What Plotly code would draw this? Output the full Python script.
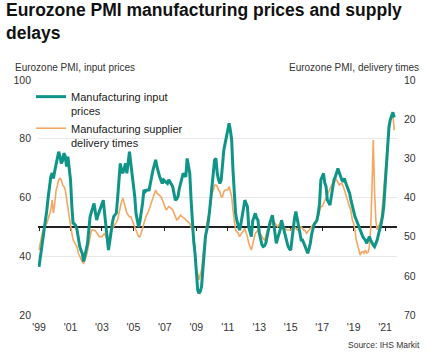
import pandas as pd
import plotly.graph_objects as go

# ---- data (monthly, Jan 1999 - Aug 2021) ----
start_month = "1999-01-01"

input_prices = [
    36.4, 39.5, 43.0, 46.0, 49.0, 52.0, 55.7, 60.0, 64.0, 67.0, 68.3, 66.5,   # 1999
    69.0, 71.6, 73.0, 75.6, 74.0, 71.6, 72.5, 75.1, 74.0, 70.5, 73.9, 70.0,   # 2000
    66.0, 57.0, 51.3, 51.0, 50.5, 49.0, 45.5, 43.5, 42.0, 41.0, 38.2, 40.0,   # 2001
    42.0, 44.4, 49.0, 53.5, 55.0, 56.5, 58.0, 55.0, 52.3, 54.0, 55.5, 56.9,   # 2002
    58.0, 59.1, 55.0, 51.3, 46.0, 42.1, 45.0, 49.0, 51.5, 53.5, 54.0, 54.7,   # 2003
    60.0, 67.0, 71.6, 69.0, 68.3, 70.0, 71.6, 68.2, 72.0, 75.6, 71.6, 68.2,   # 2004
    65.0, 60.3, 54.6, 52.0, 50.0, 52.0, 54.6, 58.0, 62.6, 62.0, 62.5, 62.6,   # 2005
    62.6, 65.0, 67.5, 69.4, 71.0, 72.8, 70.5, 68.5, 67.1, 66.0, 64.8, 66.0,   # 2006
    65.5, 65.0, 64.8, 66.0, 65.0, 64.5, 63.7, 61.0, 59.1, 59.5, 60.3, 63.0,   # 2007
    64.5, 66.0, 68.2, 67.5, 67.1, 73.3, 71.0, 68.2, 59.1, 50.0, 45.0, 41.0,   # 2008
    33.0, 28.5, 27.4, 28.0, 29.6, 35.3, 41.0, 46.7, 49.0, 51.2, 55.0, 59.1,   # 2009
    63.0, 68.0, 72.8, 73.3, 68.2, 66.0, 64.8, 66.0, 71.6, 76.2, 78.5, 80.7,   # 2010
    83.0, 85.3, 83.0, 79.6, 69.4, 60.3, 54.6, 52.0, 50.0, 48.9, 51.0, 53.5,   # 2011
    56.0, 59.1, 58.0, 56.9, 50.0, 48.0, 46.7, 52.0, 53.5, 54.6, 53.0, 52.3,   # 2012
    48.0, 45.5, 44.0, 43.3, 43.5, 44.4, 47.0, 49.5, 51.2, 52.5, 54.0, 51.2,   # 2013
    47.0, 44.4, 46.0, 47.5, 49.0, 52.3, 50.5, 49.0, 47.5, 45.5, 43.3, 42.5,   # 2014
    42.1, 46.0, 50.0, 53.0, 55.2, 53.0, 51.2, 48.0, 45.5, 45.5, 44.5, 43.3,   # 2015
    42.0, 41.0, 42.5, 44.4, 47.5, 50.0, 51.0, 51.5, 52.3, 54.5, 58.0, 66.0,   # 2016
    67.5, 68.2, 65.0, 63.7, 59.1, 58.0, 57.4, 60.3, 63.0, 66.0, 67.0, 68.2,   # 2017
    69.9, 68.5, 67.1, 66.0, 65.4, 66.5, 65.0, 63.7, 62.5, 61.4, 59.0, 56.9,   # 2018
    55.0, 53.5, 52.5, 51.2, 50.0, 49.0, 48.0, 46.7, 46.0, 45.5, 44.4, 45.5,   # 2019
    46.7, 45.5, 44.4, 43.8, 43.3, 44.5, 45.5, 47.5, 49.0, 51.0, 53.5, 57.0,   # 2020
    64.0, 71.0, 78.5, 84.0, 86.5, 88.0, 89.0, 87.3,                           # 2021
]

delivery_times = [
    53.4, 51.0, 50.0, 48.5, 47.5, 47.0, 46.6, 45.5, 44.0, 43.2, 40.6, 44.0,   # 1999
    41.5, 38.1, 37.0, 35.5, 35.1, 35.5, 36.8, 37.2, 38.0, 39.8, 42.5, 44.9,   # 2000
    47.5, 49.1, 50.8, 51.5, 52.0, 52.6, 54.2, 55.0, 55.8, 56.4, 56.8, 56.0,   # 2001
    55.1, 53.5, 51.7, 49.5, 48.3, 48.3, 48.3, 48.5, 49.1, 49.5, 50.0, 50.0,   # 2002
    50.0, 49.5, 49.1, 50.0, 50.8, 50.8, 49.5, 48.3, 48.0, 47.5, 47.0, 46.5,   # 2003
    45.7, 44.0, 42.3, 41.0, 40.2, 41.5, 43.2, 44.0, 44.5, 44.9, 44.9, 45.7,   # 2004
    46.5, 47.5, 48.3, 49.0, 50.0, 50.0, 49.1, 48.0, 46.6, 45.5, 44.5, 44.0,   # 2005
    43.0, 41.5, 40.5, 39.5, 38.9, 38.1, 38.9, 39.2, 39.5, 39.8, 40.5, 41.5,   # 2006
    42.5, 43.2, 42.8, 42.3, 42.5, 42.8, 43.2, 44.0, 44.9, 45.7, 45.5, 45.0,   # 2007
    44.5, 44.9, 45.0, 45.3, 45.7, 46.0, 46.3, 46.6, 47.5, 48.3, 50.5, 52.6,   # 2008
    58.5, 59.4, 61.0, 60.0, 58.5, 55.1, 51.7, 48.3, 46.5, 44.9, 44.0, 41.5,   # 2009
    38.9, 38.0, 36.8, 36.8, 37.2, 38.1, 38.5, 39.8, 39.8, 38.5, 38.1, 38.1,   # 2010
    38.1, 37.2, 38.5, 39.8, 43.2, 46.6, 48.3, 48.8, 49.1, 50.0, 49.5, 49.1,   # 2011
    48.3, 47.9, 49.0, 50.0, 51.7, 52.6, 53.4, 52.0, 50.5, 49.1, 48.8, 48.3,   # 2012
    48.8, 49.5, 50.0, 50.5, 50.8, 50.0, 48.5, 47.5, 47.0, 46.6, 46.8, 46.6,   # 2013
    46.6, 47.0, 47.5, 47.0, 46.6, 47.0, 47.3, 47.5, 47.8, 48.3, 48.3, 48.3,   # 2014
    48.3, 48.0, 47.5, 47.5, 47.8, 48.3, 48.0, 47.5, 47.5, 48.0, 48.3, 48.5,   # 2015
    49.1, 48.8, 48.3, 48.0, 47.5, 47.0, 46.6, 46.0, 45.5, 44.9, 43.5, 42.3,   # 2016
    42.3, 41.5, 40.6, 40.0, 39.0, 38.1, 37.5, 37.0, 36.4, 36.0, 35.8, 35.5,   # 2017
    36.0, 36.8, 36.5, 36.4, 37.0, 38.1, 38.8, 39.8, 41.0, 42.5, 43.5, 45.7,   # 2018
    46.5, 48.3, 50.8, 52.0, 53.4, 54.7, 54.0, 53.8, 54.2, 53.4, 54.2, 54.0,   # 2019
    52.6, 48.0, 38.0, 25.3, 38.5, 46.0, 48.3, 47.5, 46.5, 45.7, 42.0, 37.5,   # 2020
    33.5, 29.5, 25.0, 21.5, 20.0, 19.4, 18.9, 22.8,                           # 2021
]

x_tick_values = ["1999-01-01", "2001-01-01", "2003-01-01", "2005-01-01", "2007-01-01",
                 "2009-01-01", "2011-01-01", "2013-01-01", "2015-01-01", "2017-01-01",
                 "2019-01-01", "2021-01-01"]
x_tick_labels = ["'99", "'01", "'03", "'05", "'07", "'09", "'11", "'13", "'15", "'17", "'19", "'21"]
left_ticks = [20, 40, 60, 80, 100]
right_ticks = [10, 20, 30, 40, 50, 60, 70]

dates = pd.date_range(start_month, periods=len(input_prices), freq="MS")

TEAL = "#0f9488"
ORANGE = "#f5a661"
FONT = "Liberation Sans, Arial, sans-serif"
x_range = ["1998-12-08", "2021-10-04"]

# plot area in pixels: x 38..397, y 80..315
PL, PR, PT, PB = 38, 397, 80, 315
PW, PH = PR - PL, PB - PT


def px_x(x):
    return (x - PL) / PW


def px_y(y):
    return (PB - y) / PH


fig = go.Figure()

# orange on primary (right, reversed) axis
fig.add_trace(go.Scatter(
    x=dates, y=delivery_times, xaxis="x", yaxis="y",
    mode="lines", line=dict(color=ORANGE, width=1.6),
    name="Manufacturing supplier<br>delivery times", legendrank=2,
))
# teal on overlaid left axis (drawn on top)
fig.add_trace(go.Scatter(
    x=dates, y=input_prices, xaxis="x2", yaxis="y2",
    mode="lines", line=dict(color=TEAL, width=3),
    name="Manufacturing input<br>prices", legendrank=1,
))

fig.update_layout(
    width=428, height=355,
    margin=dict(l=PL, r=428 - PR, t=PT, b=355 - PB),
    paper_bgcolor="white", plot_bgcolor="white",
    font=dict(family=FONT, size=10.5, color="#333333"),
    xaxis=dict(
        type="date", range=x_range,
        tickvals=x_tick_values, ticktext=x_tick_labels,
        showgrid=False, showline=False, zeroline=False, ticks="",
        ticklabelstandoff=4,
        tickfont=dict(size=10.5, color="#333333"),
    ),
    xaxis2=dict(
        type="date", range=x_range, overlaying="x", anchor="free",
        position=(50 - 20) / (100 - 20),
        tickvals=x_tick_values, showticklabels=False,
        showgrid=False, zeroline=False,
        showline=True, linecolor="#222222", linewidth=1.5,
        ticks="outside", ticklen=3, tickwidth=1.2, tickcolor="#222222",
        layer="below traces",
    ),
    yaxis=dict(
        side="right", range=[70, 10], tickvals=right_ticks,
        showgrid=False, zeroline=False, showline=False, ticks="",
        ticklabelstandoff=6,
        tickfont=dict(size=10.5, color="#333333"),
    ),
    yaxis2=dict(
        overlaying="y", side="left", anchor="x2", range=[20, 100], tickvals=left_ticks,
        showgrid=True, gridcolor="#e8e8e8", gridwidth=1,
        zeroline=False, showline=False, ticks="",
        ticklabelstandoff=6,
        tickfont=dict(size=10.5, color="#333333"),
    ),
    showlegend=True,
    legend=dict(
        x=px_x(31), xanchor="left", y=px_y(83), yanchor="top",
        bgcolor="rgba(0,0,0,0)", borderwidth=0,
        font=dict(family=FONT, size=11, color="#222222"),
        valign="top", itemwidth=30, tracegroupgap=4,
    ),
    annotations=[
        dict(text="<b>Eurozone PMI manufacturing prices and supply<br>delays</b>",
             xref="paper", yref="paper", x=px_x(4), y=px_y(-2),
             xanchor="left", yanchor="top", align="left", showarrow=False,
             font=dict(family=FONT, size=17.5, color="#111111")),
        dict(text="Eurozone PMI, input prices", xref="paper", yref="paper",
             x=px_x(13), y=px_y(67), xanchor="left", yanchor="middle",
             showarrow=False, font=dict(family=FONT, size=10, color="#333333")),
        dict(text="Eurozone PMI, delivery times", xref="paper", yref="paper",
             x=px_x(421), y=px_y(67), xanchor="right", yanchor="middle",
             showarrow=False, font=dict(family=FONT, size=10, color="#333333")),
        dict(text="Source: IHS Markit", xref="paper", yref="paper",
             x=px_x(422), y=px_y(345), xanchor="right", yanchor="middle",
             showarrow=False, font=dict(family=FONT, size=8.5, color="#333333")),
    ],
)

fig.write_html("out.html", config={"displayModeBar": False},
               post_script="document.body.style.margin='0';")
